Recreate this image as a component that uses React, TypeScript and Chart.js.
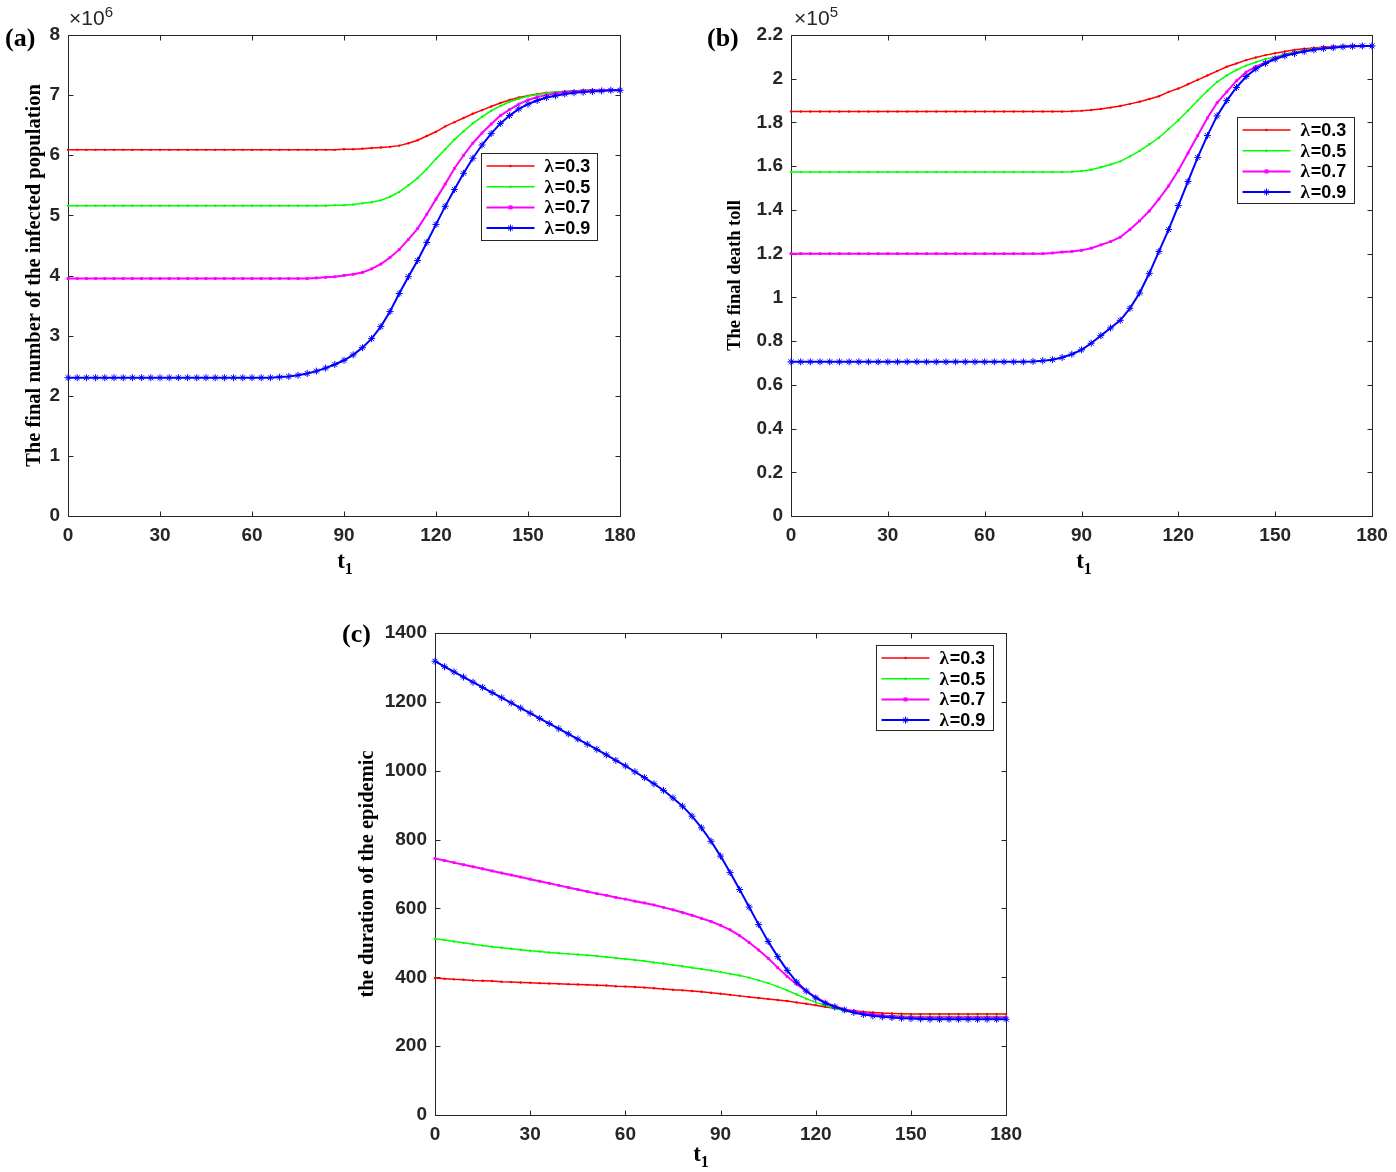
import React, { useEffect, useRef } from "react";
import { Chart, registerables } from "chart.js";
Chart.register(...registerables);

// ---------------- data ----------------
const t1Values = [0,3,6,9,12,15,18,21,24,27,30,33,36,39,42,45,48,51,54,57,60,63,66,69,72,75,78,81,84,87,90,93,96,99,102,105,108,111,114,117,120,123,126,129,132,135,138,141,144,147,150,153,156,159,162,165,168,171,174,177,180];
const xTicks = [0, 30, 60, 90, 120, 150, 180];
const xTickLabels = ["0", "30", "60", "90", "120", "150", "180"];
const lambdaLabels = ["λ=0.3", "λ=0.5", "λ=0.7", "λ=0.9"];

// (a) final number of infected (×10^6)
const infectedL03 = [6.09,6.09,6.09,6.09,6.09,6.09,6.09,6.09,6.09,6.09,6.09,6.09,6.09,6.09,6.09,6.09,6.09,6.09,6.09,6.09,6.09,6.09,6.09,6.09,6.09,6.09,6.09,6.09,6.09,6.09,
  6.10,6.10,6.11,6.12,6.13,6.14,6.16,6.20,6.25,6.32,6.39,6.48,6.55,6.62,6.69,6.75,6.81,6.87,6.92,6.96,6.99,7.02,7.04,7.05,7.06,7.07,7.08,7.08,7.08,7.08,7.08];
const infectedL05 = [5.16,5.16,5.16,5.16,5.16,5.16,5.16,5.16,5.16,5.16,5.16,5.16,5.16,5.16,5.16,5.16,5.16,5.16,5.16,5.16,5.16,5.16,5.16,5.16,5.16,5.16,5.16,5.16,5.16,
  5.17,5.17,5.18,5.20,5.22,5.25,5.31,5.39,5.50,5.62,5.77,5.94,6.10,6.26,6.40,6.53,6.64,6.74,6.82,6.89,6.94,6.98,7.01,7.03,7.05,7.06,7.07,7.08,7.08,7.08,7.08,7.08];
const infectedL07 = [3.95,3.95,3.95,3.95,3.95,3.95,3.95,3.95,3.95,3.95,3.95,3.95,3.95,3.95,3.95,3.95,3.95,3.95,3.95,3.95,3.95,3.95,3.95,3.95,3.95,3.95,3.95,
  3.96,3.97,3.98,4.00,4.02,4.05,4.11,4.19,4.30,4.43,4.60,4.78,5.02,5.27,5.52,5.78,6.00,6.20,6.37,6.52,6.66,6.76,6.85,6.92,6.97,7.00,7.03,7.05,7.06,7.07,7.08,7.08,7.08,7.08];
const infectedL09 = [2.30,2.30,2.30,2.30,2.30,2.30,2.30,2.30,2.30,2.30,2.30,2.30,2.30,2.30,2.30,2.30,2.30,2.30,2.30,2.30,2.30,2.30,2.30,
  2.31,2.32,2.34,2.37,2.41,2.46,2.52,2.59,2.68,2.80,2.95,3.15,3.40,3.70,3.98,4.25,4.55,4.85,5.15,5.43,5.70,5.95,6.17,6.36,6.53,6.66,6.77,6.85,6.91,6.96,6.99,7.02,7.04,7.05,7.06,7.07,7.08,7.08];
const yTicksA = [0, 1, 2, 3, 4, 5, 6, 7, 8];
const yTickLabelsA = ["0", "1", "2", "3", "4", "5", "6", "7", "8"];

// (b) final death toll (×10^5)
const deathL03 = [1.85,1.85,1.85,1.85,1.85,1.85,1.85,1.85,1.85,1.85,1.85,1.85,1.85,1.85,1.85,1.85,1.85,1.85,1.85,1.85,1.85,1.85,1.85,1.85,1.85,1.85,1.85,1.85,1.85,
  1.851,1.853,1.857,1.862,1.868,1.875,1.885,1.895,1.907,1.92,1.94,1.955,1.975,1.995,2.015,2.035,2.055,2.07,2.085,2.097,2.108,2.117,2.125,2.132,2.137,2.141,2.145,2.147,2.149,2.15,2.15,2.15];
const deathL05 = [1.573,1.573,1.573,1.573,1.573,1.573,1.573,1.573,1.573,1.573,1.573,1.573,1.573,1.573,1.573,1.573,1.573,1.573,1.573,1.573,1.573,1.573,1.573,1.573,1.573,1.573,1.573,1.573,1.573,
  1.575,1.578,1.584,1.595,1.608,1.622,1.645,1.67,1.70,1.73,1.77,1.81,1.855,1.90,1.945,1.985,2.015,2.04,2.06,2.075,2.09,2.10,2.113,2.122,2.13,2.137,2.142,2.146,2.148,2.15,2.15,2.15];
const deathL07 = [1.20,1.20,1.20,1.20,1.20,1.20,1.20,1.20,1.20,1.20,1.20,1.20,1.20,1.20,1.20,1.20,1.20,1.20,1.20,1.20,1.20,1.20,1.20,1.20,1.20,1.20,1.20,
  1.203,1.207,1.21,1.215,1.225,1.24,1.255,1.275,1.31,1.35,1.395,1.45,1.51,1.58,1.66,1.74,1.82,1.89,1.94,1.99,2.03,2.055,2.075,2.095,2.108,2.118,2.126,2.134,2.14,2.144,2.147,2.149,2.15,2.15];
const deathL09 = [0.705,0.705,0.705,0.705,0.705,0.705,0.705,0.705,0.705,0.705,0.705,0.705,0.705,0.705,0.705,0.705,0.705,0.705,0.705,0.705,0.705,0.705,0.705,0.705,0.705,
  0.707,0.71,0.715,0.725,0.74,0.76,0.79,0.825,0.86,0.895,0.95,1.02,1.11,1.21,1.31,1.42,1.53,1.64,1.74,1.83,1.90,1.96,2.01,2.045,2.07,2.09,2.105,2.115,2.125,2.132,2.138,2.142,2.146,2.148,2.15,2.15];
const yTicksB = [0, 0.2, 0.4, 0.6, 0.8, 1, 1.2, 1.4, 1.6, 1.8, 2, 2.2];
const yTickLabelsB = ["0", "0.2", "0.4", "0.6", "0.8", "1", "1.2", "1.4", "1.6", "1.8", "2", "2.2"];

// (c) duration of the epidemic
const durationL03 = [398,396,394,393,391,390,389,387,386,385,384,383,382,381,380,379,378,377,376,374,
  373,372,370,368,366,364,362,360,358,355,352,349,346,343,340,337,334,331,327,323,
  319,314,310,306,303,300,298,296,295,294,293,293,293,293,293,293,293,293,293,293,293];
const durationL05 = [512,508,504,500,496,492,489,486,483,480,477,475,472,470,468,466,464,462,459,456,
  453,450,447,443,440,436,432,428,424,420,415,410,405,399,391,383,373,362,350,338,
  327,318,310,303,298,294,291,289,288,287,286,286,286,286,286,286,286,286,286,286,286];
const durationL07 = [745,739,733,727,721,715,709,703,697,691,685,679,673,667,661,655,649,643,638,632,
  627,621,616,610,603,596,588,580,571,562,551,538,521,501,479,455,428,402,380,360,
  342,327,316,307,301,296,292,289,287,285,284,283,283,283,283,283,283,283,283,283,283];
const durationL09 = [1318,1302,1287,1272,1257,1242,1227,1212,1197,1182,1167,1152,1137,1122,1107,1092,1077,1062,1046,1030,
  1014,997,980,962,943,921,897,868,834,795,752,704,655,604,553,504,460,420,386,360,
  340,325,314,305,298,292,288,285,283,281,280,279,278,278,278,278,278,278,278,278,278];
const yTicksC = [0, 200, 400, 600, 800, 1000, 1200, 1400];
const yTickLabelsC = ["0", "200", "400", "600", "800", "1000", "1200", "1400"];

// ---------------- styles ----------------
const seriesStyles = [
  { color: "#ff0000", width: 1.5, point: "circle", radius: 1.2 },
  { color: "#00ff00", width: 1.5, point: "circle", radius: 1.2 },
  { color: "#ff00ff", width: 2, point: "rect", radius: 2 },
  { color: "#0000ff", width: 2, point: "star", radius: 3.5 },
];
const AXIS = "#262626";
const tickFont = { family: '"Liberation Sans", Arial, sans-serif', size: 19, weight: "bold" as const };

const framePlugin = {
  id: "frame",
  beforeDatasetsDraw(chart: any) {
    const { ctx, chartArea: a, scales } = chart;
    ctx.save();
    ctx.strokeStyle = AXIS;
    ctx.lineWidth = 1;
    const l = Math.round(a.left) + 0.5, r = Math.round(a.right) + 0.5;
    const t = Math.round(a.top) + 0.5, b = Math.round(a.bottom) + 0.5;
    ctx.strokeRect(l, t, r - l, b - t);
    const L = 5;
    ctx.beginPath();
    for (const tk of scales.x.ticks) {
      const px = Math.round(scales.x.getPixelForValue(tk.value)) + 0.5;
      ctx.moveTo(px, b); ctx.lineTo(px, b - L);
      ctx.moveTo(px, t); ctx.lineTo(px, t + L);
    }
    for (const tk of scales.y.ticks) {
      const py = Math.round(scales.y.getPixelForValue(tk.value)) + 0.5;
      ctx.moveTo(l, py); ctx.lineTo(l + L, py);
      ctx.moveTo(r, py); ctx.lineTo(r - L, py);
    }
    ctx.stroke();
    ctx.restore();
  },
};

function drawMarker(ctx: CanvasRenderingContext2D, style: string, x: number, y: number, r: number, color: string) {
  ctx.save();
  ctx.fillStyle = color;
  ctx.strokeStyle = color;
  ctx.lineWidth = 1;
  if (style === "circle") {
    ctx.beginPath(); ctx.arc(x, y, r, 0, Math.PI * 2); ctx.fill();
  } else if (style === "rect") {
    ctx.fillRect(x - r, y - r, 2 * r, 2 * r);
  } else {
    ctx.beginPath();
    for (let k = 0; k < 4; k++) {
      const ang = (k * Math.PI) / 4;
      ctx.moveTo(x - r * Math.cos(ang), y - r * Math.sin(ang));
      ctx.lineTo(x + r * Math.cos(ang), y + r * Math.sin(ang));
    }
    ctx.stroke();
  }
  ctx.restore();
}

const legendPlugin = {
  id: "insideLegend",
  afterDatasetsDraw(chart: any, _args: any, opts: any) {
    const { ctx, chartArea: a } = chart;
    const w = opts.width, h = opts.height;
    const left = Math.round(a.right - opts.right - w) + 0.5;
    const top = Math.round(a.top + opts.top) + 0.5;
    ctx.save();
    ctx.fillStyle = "#ffffff";
    ctx.fillRect(left, top, w, h);
    ctx.strokeStyle = AXIS;
    ctx.lineWidth = 1;
    ctx.strokeRect(left, top, w, h);
    chart.data.datasets.forEach((ds: any, i: number) => {
      const st = seriesStyles[i];
      const y = top + 12.5 + i * 20.7;
      ctx.strokeStyle = st.color;
      ctx.lineWidth = st.width;
      ctx.beginPath(); ctx.moveTo(left + 5, y); ctx.lineTo(left + 53, y); ctx.stroke();
      drawMarker(ctx, st.point, left + 29, y, st.radius, st.color);
      const label: string = ds.label;
      ctx.fillStyle = "#000";
      ctx.textBaseline = "middle";
      ctx.textAlign = "left";
      ctx.font = 'bold 19px "Liberation Serif", serif';
      const sym = label.slice(0, 1);
      ctx.fillText(sym, left + 63, y + 1);
      const sw = ctx.measureText(sym).width;
      ctx.font = 'bold 18px "Liberation Sans", Arial, sans-serif';
      ctx.fillText(label.slice(1), left + 63 + sw + 1, y + 1);
    });
    ctx.restore();
  },
};

type Panel = {
  series: number[][];
  yMin: number; yMax: number;
  yTicks: number[]; yLabels: string[];
  yTitle: string; yTitleSize: number;
  yAxisWidth: number; xAxisHeight: number;
  padTop: number; padRight: number; titlePad: number;
  legend: { right: number; top: number; width: number; height: number };
};

function makeChart(canvas: HTMLCanvasElement, p: Panel) {
  return new Chart(canvas, {
    type: "line",
    data: {
      datasets: p.series.map((s, i) => {
        const st = seriesStyles[i];
        return {
          label: lambdaLabels[i],
          data: t1Values.map((t, k) => ({ x: t, y: s[k] })),
          borderColor: st.color,
          backgroundColor: st.color,
          borderWidth: st.width,
          pointStyle: st.point as any,
          pointRadius: st.radius,
          pointBackgroundColor: st.color,
          pointBorderColor: st.color,
          pointBorderWidth: st.point === "star" ? 1 : 0,
          order: 3 - i,
          clip: false as any,
          tension: 0,
          fill: false,
        };
      }),
    },
    options: {
      responsive: false,
      animation: false,
      events: [],
      layout: { padding: { left: 0, top: p.padTop, right: p.padRight, bottom: 0 } },
      plugins: {
        legend: { display: false },
        tooltip: { enabled: false },
        insideLegend: p.legend,
      } as any,
      scales: {
        x: {
          type: "linear",
          min: 0,
          max: 180,
          grid: { display: false, drawTicks: false },
          border: { display: false },
          afterBuildTicks: (s: any) => { s.ticks = xTicks.map((v) => ({ value: v })); },
          afterFit: (s: any) => { s.height = p.xAxisHeight; },
          ticks: {
            autoSkip: false, maxRotation: 0, padding: 8, color: AXIS, font: tickFont,
            callback: (_v: any, i: number) => xTickLabels[i],
          },
        },
        y: {
          type: "linear",
          min: p.yMin,
          max: p.yMax,
          grid: { display: false, drawTicks: false },
          border: { display: false },
          afterBuildTicks: (s: any) => { s.ticks = p.yTicks.map((v) => ({ value: v })); },
          afterFit: (s: any) => { s.width = p.yAxisWidth; },
          ticks: {
            autoSkip: false, padding: 8, color: AXIS, font: tickFont,
            callback: (_v: any, i: number) => p.yLabels[i],
          },
          title: {
            display: true, text: p.yTitle, color: "#000",
            font: { family: '"Liberation Serif", "Times New Roman", serif', size: p.yTitleSize, weight: "bold" },
            padding: { top: p.titlePad, bottom: 0 },
          },
        },
      },
    } as any,
    plugins: [framePlugin, legendPlugin],
  });
}

const panelA: Panel = {
  series: [infectedL03, infectedL05, infectedL07, infectedL09],
  yMin: 0, yMax: 8, yTicks: yTicksA, yLabels: yTickLabelsA,
  yTitle: "The final number of the infected population", yTitleSize: 20.5,
  yAxisWidth: 68, xAxisHeight: 64, padTop: 35, padRight: 40, titlePad: 22.5,
  legend: { right: 23, top: 118, width: 116, height: 87 },
};
const panelB: Panel = {
  series: [deathL03, deathL05, deathL07, deathL09],
  yMin: 0, yMax: 2.2, yTicks: yTicksB, yLabels: yTickLabelsB,
  yTitle: "The final death toll", yTitleSize: 18.5,
  yAxisWidth: 91, xAxisHeight: 64, padTop: 35, padRight: 24, titlePad: 24.5,
  legend: { right: 18, top: 82, width: 117, height: 86 },
};
const panelC: Panel = {
  series: [durationL03, durationL05, durationL07, durationL09],
  yMin: 0, yMax: 1400, yTicks: yTicksC, yLabels: yTickLabelsC,
  yTitle: "the duration of the epidemic", yTitleSize: 20.5,
  yAxisWidth: 105, xAxisHeight: 57, padTop: 33, padRight: 20, titlePad: 25.5,
  legend: { right: 13, top: 12, width: 117, height: 85 },
};

const serifBold = '"Liberation Serif", "Times New Roman", serif';
const sansFont = '"Liberation Sans", Arial, sans-serif';

function PanelLabel({ text, left, top }: { text: string; left: number; top: number }) {
  return (
    <div style={{ position: "absolute", left, top, fontFamily: serifBold, fontWeight: "bold", fontSize: 26, lineHeight: "26px", color: "#000" }}>
      {text}
    </div>
  );
}

function Exponent({ exp, left, top }: { exp: string; left: number; top: number }) {
  return (
    <div style={{ position: "absolute", left, top, fontFamily: sansFont, fontSize: 21, lineHeight: "22px", color: AXIS, whiteSpace: "nowrap" }}>
      ×10<span style={{ fontSize: 15, position: "relative", top: -8 }}>{exp}</span>
    </div>
  );
}

function XTitle({ center, top }: { center: number; top: number }) {
  return (
    <div style={{ position: "absolute", left: center - 50, top, width: 100, textAlign: "center", fontFamily: serifBold, fontWeight: "bold", fontSize: 23, lineHeight: "24px", color: "#000" }}>
      t<span style={{ fontSize: 16, position: "relative", top: 6 }}>1</span>
    </div>
  );
}

export default function App() {
  const refA = useRef<HTMLCanvasElement>(null);
  const refB = useRef<HTMLCanvasElement>(null);
  const refC = useRef<HTMLCanvasElement>(null);

  useEffect(() => {
    const charts = [
      makeChart(refA.current!, panelA),
      makeChart(refB.current!, panelB),
      makeChart(refC.current!, panelC),
    ];
    return () => charts.forEach((c) => c.destroy());
  }, []);

  return (
    <div style={{ position: "absolute", left: 0, top: 0, width: 1396, height: 1172, background: "#fff", overflow: "hidden" }}>
      <canvas ref={refA} width={660} height={580} style={{ position: "absolute", left: 0, top: 0 }} />
      <canvas ref={refB} width={696} height={580} style={{ position: "absolute", left: 700, top: 0 }} />
      <canvas ref={refC} width={700} height={572} style={{ position: "absolute", left: 330, top: 600 }} />
      <PanelLabel text="(a)" left={5} top={25} />
      <PanelLabel text="(b)" left={707} top={25} />
      <PanelLabel text="(c)" left={342} top={621} />
      <Exponent exp="6" left={69} top={7} />
      <Exponent exp="5" left={794} top={7} />
      <XTitle center={345} top={549} />
      <XTitle center={1084} top={549} />
      <XTitle center={701} top={1142} />
    </div>
  );
}
